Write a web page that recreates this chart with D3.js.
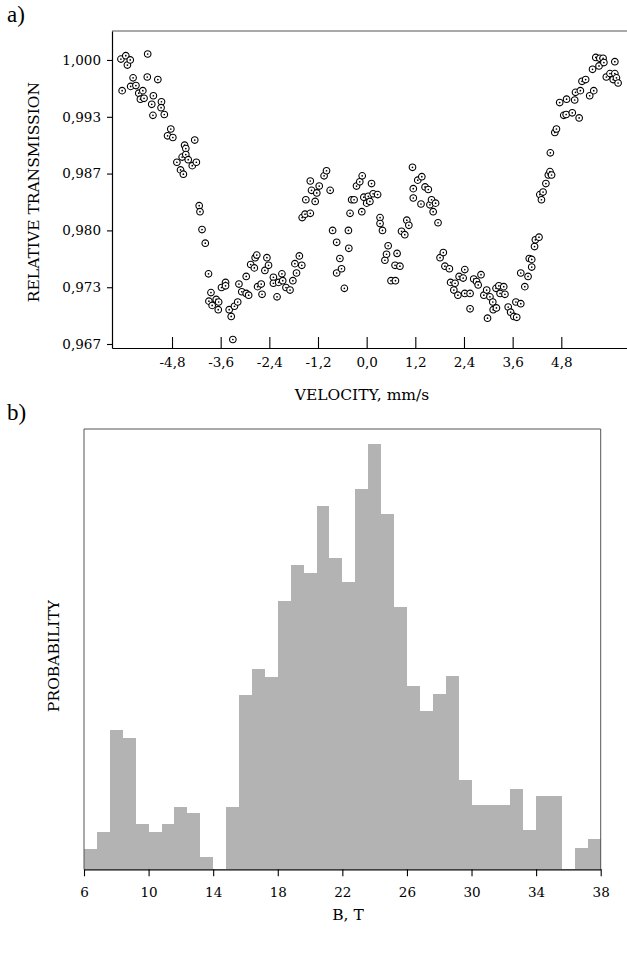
<!DOCTYPE html>
<html>
<head>
<meta charset="utf-8">
<script src="https://cdn.jsdelivr.net/npm/d3@7"></script>
<style>
  body { margin: 0; background: #fff; }
  svg { display: block; }
  text { font-family: "DejaVu Serif", serif; fill: #000; }
</style>
</head>
<body>
<div id="chart"></div>
<script>
// a) Mossbauer spectrum
const velocity = [
  -6.06, -6.03, -5.94, -5.90, -5.83, -5.82, -5.76, -5.69, -5.62, -5.58,
  -5.52, -5.49, -5.40, -5.41, -5.30, -5.26, -5.27, -5.15, -5.06, -5.07,
  -4.99, -4.91, -4.83, -4.78, -4.68, -4.59, -4.52, -4.55, -4.49, -4.46,
  -4.46, -4.40, -4.30, -4.24, -4.20, -4.13, -4.11, -4.06, -3.98, -3.90,
  -3.89, -3.84, -3.81, -3.71, -3.66, -3.65, -3.58, -3.48, -3.48, -3.39,
  -3.34, -3.30, -3.26, -3.18, -3.15, -3.08, -2.97, -2.97, -2.91, -2.86,
  -2.77, -2.75, -2.71, -2.69, -2.60, -2.58, -2.51, -2.46, -2.42, -2.30,
  -2.30, -2.21, -2.17, -2.09, -2.07, -1.99, -1.89, -1.82, -1.77, -1.73,
  -1.66, -1.60, -1.59, -1.52, -1.50, -1.39, -1.39, -1.36, -1.27, -1.23,
  -1.17, -1.05, -0.99, -0.90, -0.84, -0.74, -0.74, -0.66, -0.62, -0.55,
  -0.45, -0.44, -0.41, -0.37, -0.31, -0.25, -0.17, -0.11, -0.12, -0.07,
  0.00, 0.04, 0.08, 0.12, 0.16, 0.27, 0.33, 0.33, 0.39, 0.45,
  0.49, 0.53, 0.60, 0.71, 0.70, 0.75, 0.82, 0.86, 0.94, 0.99,
  1.04, 1.13, 1.15, 1.15, 1.26, 1.36, 1.34, 1.44, 1.52, 1.56,
  1.60, 1.64, 1.70, 1.76, 1.81, 1.89, 1.93, 2.04, 2.07, 2.15,
  2.18, 2.25, 2.28, 2.38, 2.42, 2.42, 2.55, 2.55, 2.64, 2.71,
  2.75, 2.82, 2.89, 2.96, 2.98, 3.04, 3.11, 3.12, 3.20, 3.19,
  3.26, 3.29, 3.38, 3.41, 3.49, 3.55, 3.63, 3.70, 3.68, 3.80,
  3.80, 3.90, 3.98, 4.01, 4.07, 4.07, 4.14, 4.16, 4.25, 4.27,
  4.31, 4.35, 4.42, 4.48, 4.52, 4.56, 4.53, 4.64, 4.68, 4.76,
  4.86, 4.93, 4.92, 5.07, 5.13, 5.15, 5.24, 5.27, 5.31, 5.40,
  5.50, 5.57, 5.60, 5.65, 5.73, 5.75, 5.83, 5.85, 5.91, 6.00,
  6.08, 6.12, 6.12, 6.16, 6.20
];
const transmission = [
  1.0001, 0.9964, 1.0005, 0.9994, 1.0000, 0.9969, 0.9979, 0.9970, 0.9961, 0.9954,
  0.9964, 0.9955, 1.0007, 0.9980, 0.9948, 0.9958, 0.9935, 0.9977, 0.9951, 0.9944,
  0.9936, 0.9911, 0.9919, 0.9909, 0.9880, 0.9871, 0.9866, 0.9886, 0.9900, 0.9896,
  0.9889, 0.9883, 0.9876, 0.9906, 0.9880, 0.9829, 0.9822, 0.9801, 0.9785, 0.9749,
  0.9717, 0.9727, 0.9712, 0.9719, 0.9707, 0.9716, 0.9733, 0.9739, 0.9735, 0.9707,
  0.9699, 0.9672, 0.9711, 0.9716, 0.9737, 0.9728, 0.9746, 0.9726, 0.9724, 0.9760,
  0.9756, 0.9768, 0.9771, 0.9734, 0.9737, 0.9725, 0.9753, 0.9768, 0.9759, 0.9745,
  0.9738, 0.9722, 0.9739, 0.9749, 0.9741, 0.9733, 0.9730, 0.9741, 0.9761, 0.9750,
  0.9770, 0.9759, 0.9815, 0.9819, 0.9836, 0.9820, 0.9858, 0.9847, 0.9834, 0.9844,
  0.9852, 0.9864, 0.9870, 0.9847, 0.9800, 0.9786, 0.9750, 0.9767, 0.9755, 0.9732,
  0.9800, 0.9779, 0.9820, 0.9836, 0.9836, 0.9852, 0.9857, 0.9864, 0.9822, 0.9839,
  0.9832, 0.9840, 0.9834, 0.9855, 0.9843, 0.9842, 0.9815, 0.9808, 0.9800, 0.9765,
  0.9772, 0.9782, 0.9741, 0.9741, 0.9759, 0.9773, 0.9758, 0.9799, 0.9795, 0.9812,
  0.9806, 0.9874, 0.9849, 0.9838, 0.9859, 0.9863, 0.9831, 0.9851, 0.9848, 0.9830,
  0.9836, 0.9822, 0.9832, 0.9809, 0.9768, 0.9774, 0.9758, 0.9755, 0.9739, 0.9730,
  0.9738, 0.9724, 0.9746, 0.9744, 0.9754, 0.9726, 0.9726, 0.9708, 0.9743, 0.9740,
  0.9736, 0.9748, 0.9724, 0.9730, 0.9697, 0.9722, 0.9716, 0.9707, 0.9709, 0.9732,
  0.9735, 0.9726, 0.9734, 0.9725, 0.9710, 0.9704, 0.9699, 0.9698, 0.9716, 0.9714,
  0.9750, 0.9734, 0.9746, 0.9767, 0.9766, 0.9757, 0.9781, 0.9789, 0.9792, 0.9842,
  0.9836, 0.9845, 0.9855, 0.9865, 0.9869, 0.9865, 0.9891, 0.9915, 0.9919, 0.9950,
  0.9935, 0.9954, 0.9936, 0.9938, 0.9953, 0.9962, 0.9932, 0.9964, 0.9975, 0.9977,
  0.9958, 0.9989, 0.9964, 1.0003, 0.9993, 1.0002, 1.0002, 0.9997, 0.9980, 0.9984,
  0.9977, 0.9998, 0.9984, 0.9979, 0.9973
];
const velocityTicks = [-4.8, -3.6, -2.4, -1.2, 0, 1.2, 2.4, 3.6, 4.8];
const transmissionTicks = [0.96667, 0.97333, 0.98, 0.98667, 0.99333, 1.0];

// b) hyperfine field distribution, bins of 0.8 T
const fieldBins = [
  6.0, 6.8, 7.6, 8.4, 9.2, 10.0, 10.8, 11.6, 12.4, 13.2,
  14.0, 14.8, 15.6, 16.4, 17.2, 18.0, 18.8, 19.6, 20.4, 21.2,
  22.0, 22.8, 23.6, 24.4, 25.2, 26.0, 26.8, 27.6, 28.4, 29.2,
  30.0, 30.8, 31.6, 32.4, 33.2, 34.0, 34.8, 35.6, 36.4, 37.2
];
const probability = [
  0.046, 0.085, 0.316, 0.298, 0.104, 0.085, 0.104, 0.142, 0.127, 0.027,
  0.000, 0.142, 0.396, 0.455, 0.436, 0.610, 0.690, 0.672, 0.825, 0.708,
  0.652, 0.863, 0.965, 0.807, 0.595, 0.417, 0.360, 0.398, 0.438, 0.203,
  0.145, 0.145, 0.145, 0.182, 0.089, 0.166, 0.166, 0.000, 0.049, 0.069
];
const binWidth = 0.8;
const fieldTicks = [6, 10, 14, 18, 22, 26, 30, 34, 38];

const W = 627, H = 964;
const comma = d => d.replace(".", ",");

const svg = d3.select("#chart").append("svg")
  .attr("width", W)
  .attr("height", H);

// ---------- panel a ----------
const a = { left: 112, right: 627, top: 31, bottom: 348 };

const x1 = d3.scaleLinear().domain([-6.28, 6.42]).range([a.left, a.right]);
const y1 = d3.scaleLinear().domain([0.9662, 1.0034]).range([a.bottom, a.top]);

const gA = svg.append("g");

gA.append("line")
  .attr("x1", a.left).attr("x2", a.right)
  .attr("y1", a.top).attr("y2", a.top)
  .attr("stroke", "#555").attr("stroke-width", 1);

const xAxis1 = gA.append("g")
  .attr("transform", `translate(0,${a.bottom})`)
  .call(d3.axisBottom(x1)
    .tickValues(velocityTicks)
    .tickSize(-11).tickSizeOuter(0).tickPadding(9)
    .tickFormat(d => comma(d.toFixed(1))));

const yAxis1 = gA.append("g")
  .attr("transform", `translate(${a.left},0)`)
  .call(d3.axisLeft(y1)
    .tickValues(transmissionTicks)
    .tickSize(5).tickSizeOuter(0).tickPadding(6)
    .tickFormat(d => comma(d.toFixed(3))));

[xAxis1, yAxis1].forEach(g => {
  g.select(".domain").attr("stroke", "#000").attr("stroke-width", 1.2);
  g.selectAll(".tick line").attr("stroke", "#000").attr("stroke-width", 1.1);
  g.selectAll(".tick text")
    .style("font-family", "DejaVu Serif, serif")
    .style("font-size", "13.5px")
    .attr("fill", "#000");
});

const pts = velocity.map((v, i) => ({ v, t: transmission[i] }));

const marks = gA.append("g").selectAll("g")
  .data(pts)
  .enter().append("g")
  .attr("transform", d => `translate(${x1(d.v)},${y1(d.t)})`);

marks.append("circle")
  .attr("r", 3.3)
  .attr("fill", "#fff")
  .attr("stroke", "#000")
  .attr("stroke-width", 1.1);

marks.append("circle")
  .attr("r", 0.85)
  .attr("fill", "#000");

gA.append("text")
  .attr("x", 362).attr("y", 400)
  .attr("text-anchor", "middle")
  .style("font-size", "15.5px")
  .text("VELOCITY, mm/s");

gA.append("text")
  .attr("transform", "translate(39,192) rotate(-90)")
  .attr("text-anchor", "middle")
  .style("font-size", "15.5px")
  .text("RELATIVE TRANSMISSION");

gA.append("text")
  .attr("x", 7).attr("y", 22)
  .style("font-family", "Liberation Serif, serif")
  .style("font-size", "23px")
  .text("a)");

// ---------- panel b ----------
const b = { left: 84, right: 600.7, top: 429, bottom: 869.3 };

const x2 = d3.scaleLinear().domain([6, 38]).range([b.left, b.right]);
const y2 = d3.scaleLinear().domain([0, 1]).range([b.bottom, b.top]);

const gB = svg.append("g");

const hist = fieldBins.map((f, i) => ({ f, p: probability[i] }));

gB.append("g").selectAll("rect")
  .data(hist)
  .enter().append("rect")
  .attr("x", d => x2(d.f))
  .attr("width", d => x2(d.f + binWidth) - x2(d.f))
  .attr("y", d => y2(d.p))
  .attr("height", d => y2(0) - y2(d.p))
  .attr("fill", "#b3b3b3")
  .attr("shape-rendering", "crispEdges");

// frame (left, top, right)
gB.append("path")
  .attr("d", `M${b.left},${b.bottom}V${b.top}H${b.right}V${b.bottom}`)
  .attr("fill", "none")
  .attr("stroke", "#555")
  .attr("stroke-width", 1);

const xAxis2 = gB.append("g")
  .attr("transform", `translate(0,${b.bottom})`)
  .call(d3.axisBottom(x2)
    .tickValues(fieldTicks)
    .tickSize(7).tickSizeOuter(0).tickPadding(11)
    .tickFormat(d3.format("d")));

xAxis2.select(".domain").attr("stroke", "#000").attr("stroke-width", 1.2);
xAxis2.selectAll(".tick line").attr("stroke", "#000").attr("stroke-width", 1.1);
xAxis2.selectAll(".tick text")
  .style("font-family", "DejaVu Serif, serif")
  .style("font-size", "13.5px")
  .attr("fill", "#000");

gB.append("text")
  .attr("x", 348).attr("y", 920)
  .attr("text-anchor", "middle")
  .style("font-size", "15.5px")
  .text("B, T");

gB.append("text")
  .attr("transform", "translate(59,656) rotate(-90)")
  .attr("text-anchor", "middle")
  .style("font-size", "15.5px")
  .text("PROBABILITY");

gB.append("text")
  .attr("x", 7).attr("y", 420)
  .style("font-family", "Liberation Serif, serif")
  .style("font-size", "23px")
  .text("b)");
</script>
</body>
</html>
